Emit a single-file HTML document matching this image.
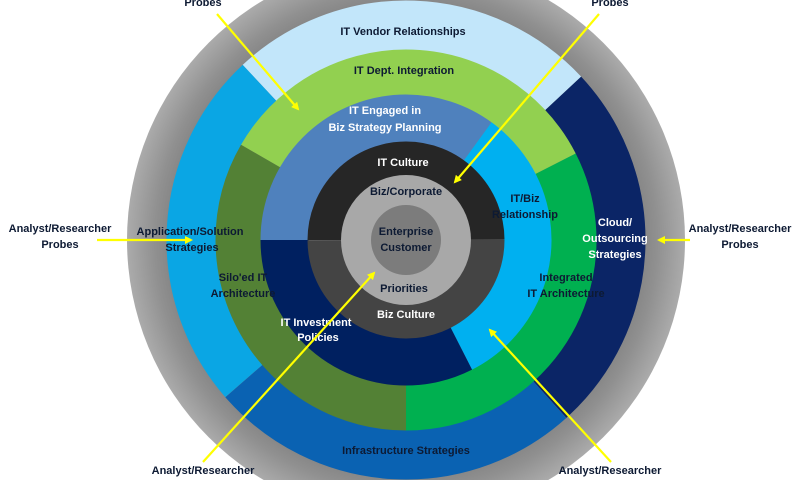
<!DOCTYPE html>
<html><head><meta charset="utf-8"><style>
html,body{margin:0;padding:0;background:#fff;width:800px;height:480px;overflow:hidden;}
svg{display:block;}
text{font-family:"Liberation Sans",sans-serif;font-weight:bold;font-size:11px;text-anchor:middle;}
.d{fill:#0d1a33;}
.w{fill:#fff;}
</style></head><body>
<svg width="800" height="480" viewBox="0 0 800 480" xmlns="http://www.w3.org/2000/svg">
<defs>
<radialGradient id="gg" cx="0.5" cy="0.5" r="0.5">
<stop offset="0.8" stop-color="#7c7c7c"/><stop offset="0.9" stop-color="#909090"/><stop offset="1" stop-color="#ababab"/>
</radialGradient>
<marker id="ah" markerWidth="8" markerHeight="8" refX="6" refY="4" orient="auto" markerUnits="userSpaceOnUse">
<path d="M0,0 L8,4 L0,8 Z" fill="#ffff00"/>
</marker>
</defs>
<g>
<circle cx="406" cy="240" r="279" fill="url(#gg)"/>
<g fill="none" stroke-width="50">
<circle cx="406" cy="240" r="214.5" pathLength="360" stroke="#c2e6fa" stroke-dasharray="90 360" transform="rotate(-133 406 240)"/>
<circle cx="406" cy="240" r="214.5" pathLength="360" stroke="#0b2566" stroke-dasharray="91 360" transform="rotate(-43 406 240)"/>
<circle cx="406" cy="240" r="214.5" pathLength="360" stroke="#0a62b2" stroke-dasharray="91 360" transform="rotate(48 406 240)"/>
<circle cx="406" cy="240" r="214.5" pathLength="360" stroke="#0aa6e4" stroke-dasharray="88 360" transform="rotate(139 406 240)"/>
</g>
<g fill="none" stroke-width="46">
<circle cx="406" cy="240" r="167.5" pathLength="360" stroke="#92d050" stroke-dasharray="123 360" transform="rotate(-150 406 240)"/>
<circle cx="406" cy="240" r="167.5" pathLength="360" stroke="#00b050" stroke-dasharray="117 360" transform="rotate(-27 406 240)"/>
<circle cx="406" cy="240" r="167.5" pathLength="360" stroke="#538135" stroke-dasharray="120 360" transform="rotate(90 406 240)"/>
</g>
<g fill="none" stroke-width="48">
<circle cx="406" cy="240" r="121.5" pathLength="360" stroke="#4f81bd" stroke-dasharray="126 360" transform="rotate(-180 406 240)"/>
<circle cx="406" cy="240" r="121.5" pathLength="360" stroke="#00b0f0" stroke-dasharray="117 360" transform="rotate(-54 406 240)"/>
<circle cx="406" cy="240" r="121.5" pathLength="360" stroke="#002060" stroke-dasharray="117 360" transform="rotate(63 406 240)"/>
</g>
<g fill="none" stroke-width="34">
<circle cx="406" cy="240" r="81.5" pathLength="360" stroke="#262626" stroke-dasharray="180 360" transform="rotate(-180 406 240)"/>
<circle cx="406" cy="240" r="81.5" pathLength="360" stroke="#444" stroke-dasharray="180 360"/>
</g>
<circle cx="406" cy="240" r="65" fill="#a8a8a8"/>
<circle cx="406" cy="240" r="35" fill="#7c7c7c"/>
</g>
<text class="d" x="403" y="35">IT Vendor Relationships</text>
<text class="d" x="404" y="74">IT Dept. Integration</text>
<text class="w" x="385" y="114">IT Engaged in</text>
<text class="w" x="385" y="131">Biz Strategy Planning</text>
<text class="w" x="403" y="166">IT Culture</text>
<text class="d" x="406" y="195">Biz/Corporate</text>
<text class="d" x="406" y="235">Enterprise</text>
<text class="d" x="406" y="251">Customer</text>
<text class="d" x="525" y="202">IT/Biz</text>
<text class="d" x="525" y="218">Relationship</text>
<text class="d" x="190" y="235">Application/Solution</text>
<text class="d" x="192" y="251">Strategies</text>
<text class="w" x="615" y="226">Cloud/</text>
<text class="w" x="615" y="242">Outsourcing</text>
<text class="w" x="615" y="258">Strategies</text>
<text class="d" x="243" y="281">Silo'ed IT</text>
<text class="d" x="243" y="297">Architecture</text>
<text class="d" x="566" y="281">Integrated</text>
<text class="d" x="566" y="297">IT Architecture</text>
<text class="d" x="404" y="292">Priorities</text>
<text class="w" x="406" y="318">Biz Culture</text>
<text class="w" x="316" y="326">IT Investment</text>
<text class="w" x="318" y="341">Policies</text>
<text class="d" x="406" y="454">Infrastructure Strategies</text>
<text class="d" x="203" y="6">Probes</text>
<text class="d" x="610" y="6">Probes</text>
<text class="d" x="60" y="232">Analyst/Researcher</text>
<text class="d" x="60" y="248">Probes</text>
<text class="d" x="740" y="232">Analyst/Researcher</text>
<text class="d" x="740" y="248">Probes</text>
<text class="d" x="203" y="474">Analyst/Researcher</text>
<text class="d" x="610" y="474">Analyst/Researcher</text>
<g stroke="#ffff00" stroke-width="2.2" fill="none" marker-end="url(#ah)">
<line x1="217" y1="14" x2="298" y2="109"/>
<line x1="599" y1="14" x2="455" y2="182"/>
<line x1="97" y1="240" x2="191" y2="240"/>
<line x1="690" y1="240" x2="659" y2="240"/>
<line x1="203" y1="462" x2="374" y2="273"/>
<line x1="611" y1="462" x2="490" y2="330"/>
</g>
</svg>
</body></html>
